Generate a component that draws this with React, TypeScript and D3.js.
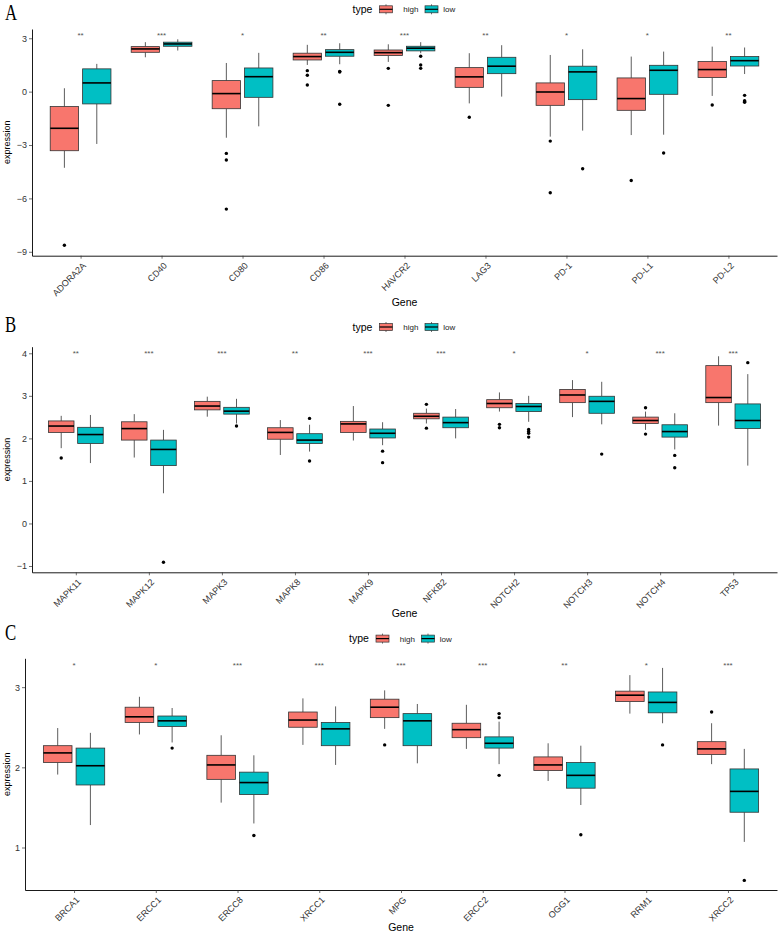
import React, { useEffect, useRef } from 'react'
import * as d3 from 'd3'

// box stats are [lower whisker, q1, median, q3, upper whisker]
const genesA = ['ADORA2A', 'CD40', 'CD80', 'CD86', 'HAVCR2', 'LAG3', 'PD-1', 'PD-L1', 'PD-L2']
const highA = [
  [-4.28, -3.32, -2.06, -0.84, 0.19], [1.93, 2.21, 2.40, 2.53, 2.78], [-2.59, -0.96, -0.11, 0.62, 1.61],
  [1.50, 1.78, 1.97, 2.16, 2.63], [1.67, 2.03, 2.19, 2.34, 2.66], [-0.66, 0.24, 0.83, 1.35, 2.16],
  [-2.53, -0.77, -0.02, 0.49, 2.06], [-2.44, -1.05, -0.39, 0.77, 1.97], [-0.24, 0.79, 1.24, 1.69, 2.53],
]
const lowA = [
  [-2.94, -0.69, 0.49, 1.28, 1.56], [2.31, 2.55, 2.68, 2.78, 2.94], [-1.95, -0.32, 0.84, 1.33, 2.18],
  [1.54, 1.99, 2.21, 2.36, 2.72], [2.16, 2.29, 2.44, 2.55, 2.78], [-0.28, 1.01, 1.43, 1.93, 2.61],
  [-2.19, -0.45, 1.11, 1.43, 2.38], [-2.42, -0.15, 1.20, 1.48, 2.25], [0.99, 1.44, 1.74, 1.97, 2.48],
]
const outHighA = [[-8.63], [], [-3.47, -3.84, -6.6], [1.18, 0.92, 0.37], [1.31, -0.77], [-1.44], [-2.78, -5.68], [-4.99], [-0.75]]
const outLowA = [[], [], [], [1.14, 1.10, -0.71], [1.99, 1.5, 1.31], [], [-4.33], [-3.45], [-0.21, -0.51, -0.56, -0.6]]
const starsA = ['**', '***', '*', '**', '***', '**', '*', '*', '**']
const ticksA = [3, 0, -3, -6, -9]

const genesB = ['MAPK11', 'MAPK12', 'MAPK3', 'MAPK8', 'MAPK9', 'NFKB2', 'NOTCH2', 'NOTCH3', 'NOTCH4', 'TP53']
const highB = [
  [1.77, 2.14, 2.29, 2.41, 2.53], [1.55, 1.96, 2.23, 2.39, 2.57], [2.51, 2.67, 2.76, 2.87, 2.98],
  [1.61, 1.98, 2.14, 2.25, 2.43], [1.95, 2.14, 2.34, 2.40, 2.76], [2.35, 2.46, 2.52, 2.59, 2.70],
  [2.63, 2.72, 2.82, 2.91, 3.08], [2.50, 2.84, 3.02, 3.15, 3.37], [2.20, 2.35, 2.42, 2.50, 2.63],
  [2.30, 2.84, 2.96, 3.71, 3.93],
]
const lowB = [
  [1.42, 1.88, 2.09, 2.26, 2.55], [0.71, 1.36, 1.74, 1.96, 2.20], [2.35, 2.57, 2.64, 2.73, 2.93],
  [1.69, 1.88, 1.96, 2.11, 2.32], [1.84, 2.01, 2.12, 2.22, 2.38], [2.00, 2.25, 2.37, 2.50, 2.69],
  [2.39, 2.63, 2.75, 2.82, 3.00], [2.33, 2.59, 2.87, 2.99, 3.33], [1.74, 2.03, 2.16, 2.32, 2.59],
  [1.36, 2.23, 2.42, 2.81, 3.51],
]
const outHighB = [[1.54], [], [], [], [], [2.80, 2.24], [2.33, 2.25], [], [2.72, 2.10], []]
const outLowB = [[], [-0.91], [2.29], [2.47, 1.47], [1.70, 1.43], [], [2.21, 2.16, 2.12, 2.03], [1.63], [1.60, 1.31], [3.78]]
const starsB = ['**', '***', '***', '**', '***', '***', '*', '*', '***', '***']
const ticksB = [4, 3, 2, 1, 0, -1]

const genesC = ['BRCA1', 'ERCC1', 'ERCC8', 'XRCC1', 'MPG', 'ERCC2', 'OGG1', 'RRM1', 'XRCC2']
const highC = [
  [1.91, 2.06, 2.18, 2.27, 2.49], [2.41, 2.56, 2.63, 2.75, 2.88], [1.56, 1.85, 2.03, 2.15, 2.40],
  [2.28, 2.50, 2.59, 2.69, 2.86], [2.48, 2.62, 2.75, 2.85, 2.96], [2.23, 2.37, 2.47, 2.55, 2.78],
  [1.83, 1.96, 2.03, 2.13, 2.30], [2.67, 2.82, 2.90, 2.95, 3.15], [2.04, 2.16, 2.23, 2.32, 2.55],
]
const lowC = [
  [1.28, 1.78, 2.02, 2.24, 2.43], [2.31, 2.51, 2.58, 2.64, 2.74], [1.30, 1.66, 1.81, 1.94, 2.15],
  [2.03, 2.27, 2.48, 2.56, 2.76], [2.05, 2.27, 2.58, 2.67, 2.79], [2.04, 2.24, 2.30, 2.38, 2.57],
  [1.53, 1.74, 1.90, 2.06, 2.27], [2.55, 2.68, 2.81, 2.94, 3.24], [1.07, 1.44, 1.70, 1.98, 2.23],
]
const outHighC = [[], [], [], [], [2.28], [], [], [], [2.69]]
const outLowC = [[], [2.24], [1.15], [], [], [2.67, 2.62, 1.90], [1.16], [2.28], [0.59]]
const starsC = ['*', '*', '***', '***', '***', '***', '**', '*', '***']
const ticksC = [3, 2, 1]

const groups = ['high', 'low']
const HIGH = '#F8766D'
const LOW = '#00BFC4'
const SANS = '"Liberation Sans", Arial, sans-serif'

const panels = [
  { letter: 'A', letterY: 20, genes: genesA, high: highA, low: lowA, outHigh: outHighA, outLow: outLowA, stars: starsA, starLevel: 3.245, ticks: ticksA, domain: [-9.22, 3.52], left: 32, right: 777, top: 29, bottom: 255.7, geneY: 306 },
  { letter: 'B', letterY: 332, genes: genesB, high: highB, low: lowB, outHigh: outHighB, outLow: outLowB, stars: starsB, starLevel: 4.04, ticks: ticksB, domain: [-1.148, 4.155], left: 32, right: 777, top: 346.7, bottom: 572.3, geneY: 617 },
  { letter: 'C', letterY: 640, genes: genesC, high: highC, low: lowC, outHigh: outHighC, outLow: outLowC, stars: starsC, starLevel: 3.3, ticks: ticksC, domain: [0.47, 3.36], left: 25, right: 777, top: 658.3, bottom: 890, geneY: 931 },
]

function fmt(d) {
  return d < 0 ? '\u2212' + Math.abs(d) : String(d)
}

function drawPanel(svg, p) {
  const g = svg.append('g')
  const x = d3.scalePoint().domain(p.genes).range([p.left, p.right]).padding(0.6)
  const y = d3.scaleLinear().domain(p.domain).range([p.bottom, p.top])
  const step = x.step()
  const bw = step * 0.35
  const cx = (p.left + p.right) / 2

  // panel letter
  g.append('text')
    .attr('transform', `translate(5,${p.letterY}) scale(0.7,1)`)
    .attr('font-family', '"Liberation Serif", "DejaVu Serif", serif')
    .attr('font-size', 24)
    .text(p.letter)

  // legend
  const lg = g.append('g').attr('transform', `translate(${cx},${p.top - 19.7})`)
  lg.append('text').attr('x', -52).attr('y', 3.5).attr('font-family', SANS).attr('font-size', 10.5).text('type')
  const keyX = [-25.5, 20]
  const labX = [-1.3, 38.7]
  groups.forEach((k, i) => {
    const kg = lg.append('g').attr('transform', `translate(${keyX[i]},0)`)
    kg.append('line').attr('x1', 7).attr('x2', 7).attr('y1', -5).attr('y2', 5).attr('stroke', '#333').attr('stroke-width', 0.7)
    kg.append('rect').attr('x', 0.5).attr('y', -3.5).attr('width', 13).attr('height', 7)
      .attr('fill', i === 0 ? HIGH : LOW).attr('stroke', '#333').attr('stroke-width', 0.7)
    kg.append('line').attr('x1', 0.5).attr('x2', 13.5).attr('y1', 0).attr('y2', 0).attr('stroke', '#000').attr('stroke-width', 1.2)
    lg.append('text').attr('x', labX[i]).attr('y', 3).attr('font-family', SANS).attr('font-size', 8).attr('fill', '#222').text(k)
  })

  // boxes
  p.genes.forEach((gene, i) => {
    const sets = [
      { s: p.high[i], out: p.outHigh[i], fill: HIGH, off: -0.2 },
      { s: p.low[i], out: p.outLow[i], fill: LOW, off: 0.2 },
    ]
    sets.forEach(({ s, out, fill, off }) => {
      const c = x(gene) + off * step
      const [lw, q1, med, q3, uw] = s
      g.append('line').attr('x1', c).attr('x2', c).attr('y1', y(uw)).attr('y2', y(q3))
        .attr('stroke', '#333').attr('stroke-width', 0.8)
      g.append('line').attr('x1', c).attr('x2', c).attr('y1', y(q1)).attr('y2', y(lw))
        .attr('stroke', '#333').attr('stroke-width', 0.8)
      g.append('rect').attr('x', c - bw / 2).attr('width', bw).attr('y', y(q3)).attr('height', y(q1) - y(q3))
        .attr('fill', fill).attr('stroke', '#333').attr('stroke-width', 0.8)
      g.append('line').attr('x1', c - bw / 2).attr('x2', c + bw / 2).attr('y1', y(med)).attr('y2', y(med))
        .attr('stroke', '#000').attr('stroke-width', 1.6)
      out.forEach(v => {
        g.append('circle').attr('cx', c).attr('cy', y(v)).attr('r', 1.7).attr('fill', '#000')
      })
    })
    g.append('text').attr('x', x(gene)).attr('y', y(p.starLevel)).attr('dy', '0.55em')
      .attr('text-anchor', 'middle').attr('font-family', SANS).attr('font-size', 8).attr('fill', '#555')
      .text(p.stars[i])
  })

  // axes
  const ya = g.append('g').attr('transform', `translate(${p.left},0)`)
    .call(d3.axisLeft(y).tickValues(p.ticks).tickSize(3).tickSizeOuter(0).tickPadding(2).tickFormat(fmt))
  const xa = g.append('g').attr('transform', `translate(0,${p.bottom})`)
    .call(d3.axisBottom(x).tickSize(3).tickSizeOuter(0).tickPadding(2))
  ;[ya, xa].forEach(a => {
    a.select('.domain').attr('stroke', '#000').attr('stroke-width', 0.9)
    a.selectAll('.tick line').attr('stroke', '#333').attr('stroke-width', 0.7)
    a.selectAll('.tick text').attr('font-family', SANS).attr('font-size', 9).attr('fill', '#333')
  })
  xa.selectAll('.tick text')
    .attr('y', 0).attr('x', 0).attr('dy', '0.71em')
    .attr('text-anchor', 'end')
    .attr('transform', 'translate(1,6) rotate(-45)')

  // axis titles
  g.append('text').attr('x', cx).attr('y', p.geneY).attr('text-anchor', 'middle')
    .attr('font-family', SANS).attr('font-size', 10.5).text('Gene')
  g.append('text').attr('transform', `translate(10,${(p.top + p.bottom) / 2}) rotate(-90)`)
    .attr('text-anchor', 'middle').attr('font-family', SANS).attr('font-size', 9).text('expression')
}

export default function App() {
  const ref = useRef(null)
  useEffect(() => {
    const svg = d3.select(ref.current)
    svg.selectAll('*').remove()
    panels.forEach(p => drawPanel(svg, p))
  }, [])
  return (
    <svg ref={ref} width={778} height={932}
      style={{ position: 'absolute', left: 0, top: 0, background: '#fff', display: 'block' }} />
  )
}
